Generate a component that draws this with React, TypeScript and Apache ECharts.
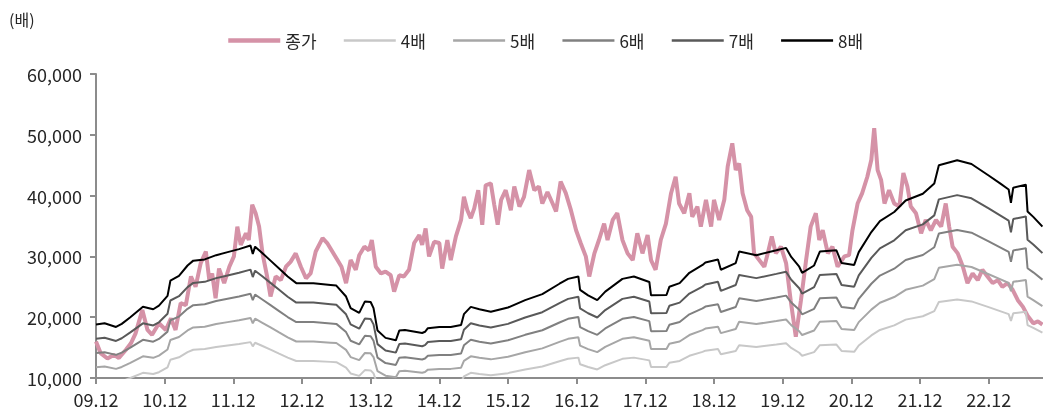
import React, { useEffect, useRef } from "react";
import * as echarts from "echarts";

// x values are months counted from Dec 2009 (09.12 = 0)
const xTickLabels = ["09.12", "10.12", "11.12", "12.12", "13.12", "14.12", "15.12", "16.12", "17.12", "18.12", "19.12", "20.12", "21.12", "22.12"];

// Closing price (종가): [month, price]
const price: [number, number][] = [
  [0, 16000], [0.8, 14100], [2.0, 13200], [3.1, 13800], [4.0, 13300], [5.2, 14600], [6.1, 15700], [6.9, 17300],
  [8.1, 21200], [9.0, 17900], [9.8, 17100], [11.0, 19000], [12.2, 17900], [13.1, 19800], [13.9, 17900], [14.8, 22300],
  [15.7, 22000], [16.6, 26700], [17.4, 25000], [18.3, 28900], [19.2, 30800], [19.8, 26100], [20.3, 27200], [20.9, 23100],
  [21.5, 28000], [22.4, 25600], [23.3, 28300], [24.1, 30000], [24.7, 34900], [25.3, 31900], [26.2, 33800], [26.7, 32700],
  [27.3, 38500], [27.9, 37100], [28.5, 34900], [29.1, 30500], [29.9, 26700], [30.5, 23400], [31.4, 26700], [32.3, 26100],
  [33.2, 28300], [34.0, 29100], [34.9, 30500], [35.8, 28300], [36.7, 26400], [37.5, 27200], [38.4, 30800], [39.6, 33000],
  [40.4, 32200], [41.3, 30800], [42.2, 29400], [42.9, 28300], [43.7, 25600], [44.5, 29400], [45.4, 27800], [46.0, 30200],
  [46.9, 31600], [47.7, 31000], [48.2, 32700], [48.9, 28300], [49.8, 27200], [50.6, 27500], [51.5, 26900], [52.1, 24200],
  [53.0, 26900], [53.8, 26700], [54.7, 27800], [55.6, 32200], [56.5, 33500], [57.0, 31900], [57.6, 34600], [58.2, 30000],
  [59.1, 32400], [60.0, 32200], [60.5, 28000], [61.4, 32700], [62.0, 29400], [62.9, 33300], [63.8, 36000], [64.3, 39800],
  [64.9, 37600], [65.5, 36300], [66.1, 37900], [66.8, 40900], [67.5, 35200], [68.1, 41700], [69.0, 42000], [69.6, 38500],
  [70.2, 35200], [70.8, 39300], [71.6, 40900], [72.5, 37600], [73.1, 41500], [74.0, 38200], [74.8, 39800], [75.7, 44200],
  [76.6, 40900], [77.4, 41500], [78.0, 38700], [78.9, 40600], [79.8, 38700], [80.4, 37400], [81.2, 42300], [82.1, 40400],
  [83.0, 37600], [83.9, 34300], [84.7, 32200], [85.6, 30000], [86.2, 26700], [87.1, 30500], [87.9, 32700], [88.8, 35400],
  [89.4, 32700], [90.3, 36000], [91.1, 37100], [92.0, 32700], [92.9, 30500], [93.8, 29400], [94.6, 33800], [95.5, 30500],
  [96.4, 33500], [97.0, 29400], [97.8, 27800], [98.7, 32700], [99.6, 35400], [100.5, 40400], [101.3, 43100], [101.9, 38700],
  [102.8, 37100], [103.7, 40400], [104.2, 36500], [105.1, 38200], [105.7, 34900], [106.6, 39300], [107.5, 34900], [108.0, 39300],
  [108.9, 36000], [109.8, 39300], [110.4, 44800], [111.2, 48600], [111.8, 44200], [112.4, 45300], [113.0, 40400], [113.8, 37600],
  [114.5, 36500], [115.0, 30500], [115.9, 29400], [116.8, 28300], [117.4, 30500], [118.1, 33300], [118.8, 30500], [119.7, 31600],
  [120.6, 28900], [121.4, 22800], [122.3, 16800], [123.2, 22800], [124.1, 29400], [124.9, 34900], [125.8, 37100], [126.4, 32700],
  [127.0, 34300], [127.9, 30500], [128.7, 31600], [129.6, 28300], [130.8, 30000], [131.6, 30200], [132.2, 34300], [133.1, 38700],
  [133.9, 40400], [134.8, 43100], [135.5, 45900], [136.0, 51100], [136.6, 44200], [137.2, 42600], [137.8, 38700], [138.6, 40900],
  [139.5, 38700], [140.4, 38200], [141.1, 43700], [141.8, 41500], [142.4, 38200], [143.3, 37100], [144.2, 33800], [145.0, 36000],
  [145.9, 34300], [146.8, 36000], [147.7, 34900], [148.5, 38700], [149.1, 34900], [149.7, 31600], [150.6, 30500], [151.5, 28300],
  [152.3, 25600], [153.2, 27200], [154.1, 26100], [154.9, 27800], [155.8, 26700], [156.7, 25600], [157.6, 26100], [158.4, 25000],
  [159.3, 25600], [160.2, 24500], [161.1, 22800], [162.0, 21700], [162.9, 20100], [163.8, 19000], [164.6, 19300], [165.4, 18800],
];

// EPS (trailing) used for the PER bands: [month, EPS]
const eps: [number, number][] = [
  [0, 2350], [1.5, 2375], [3.5, 2300], [4.5, 2363], [6, 2500], [8.2, 2713], [10, 2663], [11, 2738],
  [12.5, 2938], [13, 3250], [14.5, 3350], [16, 3563], [17, 3663], [19, 3688], [21, 3775], [23, 3838],
  [25, 3900], [27, 3975], [27.4, 3800], [27.8, 3950], [29, 3825], [30.5, 3663], [32, 3500], [33.5, 3338],
  [35, 3200], [38, 3200], [41, 3163], [42, 3150], [43.7, 2925], [44.5, 2688], [46, 2588], [47, 2825],
  [48, 2813], [48.5, 2688], [49.2, 2225], [50.6, 2075], [52.4, 2025], [53, 2225], [54, 2238], [57, 2175],
  [57.5, 2200], [58, 2275], [60, 2300], [62, 2300], [63.8, 2338], [64.3, 2563], [65.5, 2713], [67, 2663],
  [69, 2613], [72, 2700], [75, 2850], [78, 2975], [81, 3188], [82.5, 3288], [84.3, 3338], [84.6, 3063],
  [86, 2950], [87.6, 2850], [89, 3025], [92, 3288], [94, 3338], [96.7, 3225], [97, 2950], [99.7, 2956],
  [100.2, 3125], [102, 3200], [103.7, 3413], [106, 3575], [106.5, 3625], [108.7, 3688], [109.2, 3475], [111.8, 3613],
  [112.4, 3850], [115.4, 3775], [118.9, 3875], [120.6, 3925], [121.5, 3738], [122.9, 3538], [123.4, 3413], [125.5, 3563],
  [126.5, 3850], [129.4, 3875], [130.3, 3613], [132.5, 3575], [133.3, 3838], [135.5, 4250], [137, 4475], [139.5, 4663],
  [141.5, 4900], [144.5, 5038], [146.5, 5250], [147.3, 5625], [150.5, 5725], [153, 5650], [156, 5413], [158, 5250],
  [159.5, 5125], [159.9, 4850], [160.3, 5163], [162.5, 5225], [162.8, 4675], [163.8, 4563], [165.4, 4363],
];

const bandMultiples = [4, 5, 6, 7, 8];
const bandNames = ["4배", "5배", "6배", "7배", "8배"];
const bandColors = ["#c8c8c8", "#a6a6a6", "#808080", "#595959", "#000000"];
const priceName = "종가";
const priceColor = "#d592a7";

const FONT = "'Noto Sans CJK KR', 'Noto Sans', sans-serif";

export default function App() {
  const ref = useRef<HTMLDivElement>(null);
  useEffect(() => {
    if (!ref.current) return;
    const chart = echarts.init(ref.current, undefined, { renderer: "svg" });
    const bandSeries = bandMultiples.map((k, i) => ({
      name: bandNames[i],
      type: "line",
      symbol: "none",
      data: eps.map(([m, e]) => [m, e * k]),
      lineStyle: { color: bandColors[i], width: 2 },
      itemStyle: { color: bandColors[i] },
      clip: true,
      z: 3 + i,
    }));
    chart.setOption({
      animation: false,
      textStyle: { fontFamily: FONT, color: "#262626" },
      title: {
        text: "(배)",
        left: 4,
        top: 6,
        textStyle: { fontFamily: FONT, fontSize: 16, fontWeight: "normal", color: "#262626" },
      },
      legend: {
        left: 221,
        top: 27,
        itemWidth: 52,
        itemHeight: 14,
        itemGap: 26,
        itemStyle: { opacity: 0 },
        textStyle: { fontFamily: FONT, fontSize: 17, color: "#262626" },
        data: [
          { name: priceName, lineStyle: { width: 4.5 } },
          ...bandNames.map((n) => ({ name: n, lineStyle: { width: 2.5 } })),
        ],
      },
      grid: { left: 96, right: 0, top: 74, bottom: 37, containLabel: false },
      xAxis: {
        type: "value",
        min: 0,
        max: 165.5,
        interval: 12,
        axisLine: { lineStyle: { color: "#8c8c8c", width: 2 } },
        axisTick: { show: true, length: 6, lineStyle: { color: "#8c8c8c", width: 2 } },
        splitLine: { show: false },
        axisLabel: {
          showMaxLabel: false,
          margin: 12,
          fontSize: 18,
          color: "#262626",
          fontFamily: FONT,
          formatter: (v: number) => (v % 12 === 0 ? xTickLabels[v / 12] ?? "" : ""),
        },
      },
      yAxis: {
        type: "value",
        min: 10000,
        max: 60000,
        interval: 10000,
        axisLine: { show: true, lineStyle: { color: "#8c8c8c", width: 2 } },
        axisTick: { show: true, length: 6, lineStyle: { color: "#8c8c8c", width: 2 } },
        splitLine: { show: false },
        axisLabel: {
          margin: 14,
          fontSize: 18,
          color: "#262626",
          fontFamily: FONT,
          formatter: (v: number) => v.toLocaleString("en-US"),
        },
      },
      series: [
        {
          name: priceName,
          type: "line",
          symbol: "none",
          data: price,
          lineStyle: { color: priceColor, width: 4 },
          itemStyle: { color: priceColor },
          clip: true,
          z: 2,
        },
        ...bandSeries,
      ],
    });
    return () => chart.dispose();
  }, []);
  return <div ref={ref} style={{ position: "fixed", left: 0, top: 0, width: 1043, height: 415 }} />;
}
